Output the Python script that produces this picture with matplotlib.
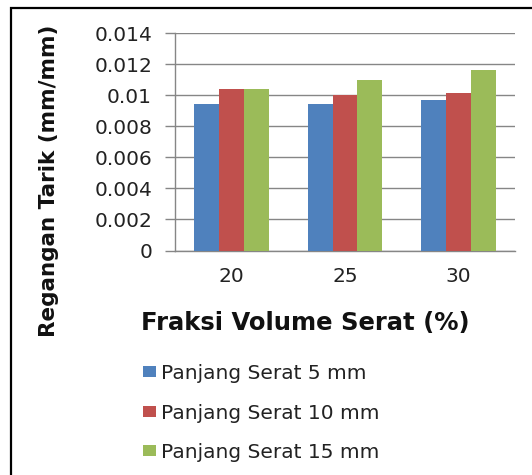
import numpy as np
import matplotlib
matplotlib.use("Agg")
import matplotlib.pyplot as plt
from matplotlib.patches import Patch, Rectangle

# data
categories = ["20", "25", "30"]
series_names = ["Panjang Serat 5 mm", "Panjang Serat 10 mm", "Panjang Serat 15 mm"]
serat_5mm = [0.00944, 0.00944, 0.00966]
serat_10mm = [0.0104, 0.01004, 0.01017]
serat_15mm = [0.0104, 0.01095, 0.0116]
y_ticks = [0, 0.002, 0.004, 0.006, 0.008, 0.01, 0.012, 0.014]
y_tick_labels = ["0", "0.002", "0.004", "0.006", "0.008", "0.01", "0.012", "0.014"]

colors = ["#4F81BD", "#C0504D", "#9BBB59"]
grid_color = "#868686"

plt.rcParams['font.family'] = ['DejaVu Sans']

fig = plt.figure(figsize=(5.32, 4.75), dpi=100)
ax = fig.add_axes([0.329, 0.4726, 0.639, 0.4579])

x = np.arange(len(categories))
w = 0.22
for i, vals in enumerate([serat_5mm, serat_10mm, serat_15mm]):
    ax.bar(x + (i - 1) * w, vals, width=w, color=colors[i], label=series_names[i], zorder=3)

ax.set_xlim(-0.5, len(categories) - 0.5)
ax.set_ylim(0, 0.014)
ax.set_yticks(y_ticks)
ax.set_yticklabels(y_tick_labels)
ax.set_xticks(x)
ax.set_xticklabels(categories)

ax.yaxis.grid(True, color=grid_color, linewidth=1.0, zorder=0)
ax.set_axisbelow(True)
for s in ["top", "right"]:
    ax.spines[s].set_visible(False)
ax.spines["left"].set_color(grid_color)
ax.spines["bottom"].set_color(grid_color)
ax.spines["left"].set_linewidth(1.0)
ax.spines["bottom"].set_linewidth(1.0)
ax.tick_params(axis="y", length=7.5, width=1.0, color=grid_color, pad=9, labelsize=14.5, labelcolor="#222222")
ax.tick_params(axis="x", length=0, pad=12, labelsize=14.5, labelcolor="#222222")

fig.text(305 / 532, 1 - 323 / 475, "Fraksi Volume Serat (%)", ha="center", va="center",
         fontsize=17.5, fontweight="bold", color="#111111")
fig.text(49 / 532, 1 - 181 / 475, "Regangan Tarik (mm/mm)", ha="center", va="center",
         rotation=90, fontsize=15.5, fontweight="bold", color="#111111")

handles = [Patch(facecolor=c) for c in colors]
fig.legend(handles, series_names, loc="upper left", bbox_to_anchor=(143 / 532, 1 - 364 / 475),
           frameon=False, fontsize=14.5, handlelength=0.65, handleheight=0.45,
           handletextpad=0.25, labelspacing=1.02, borderpad=0, borderaxespad=0,
           labelcolor="#222222")

# chart border (cut off at right and bottom in the reference)
fig.patches.append(Rectangle((11 / 532, -0.1), 1.2, 1 - 8 / 475 + 0.1, transform=fig.transFigure,
                             fill=False, edgecolor="black", linewidth=1.6))

fig.savefig("out.png", dpi=100)
